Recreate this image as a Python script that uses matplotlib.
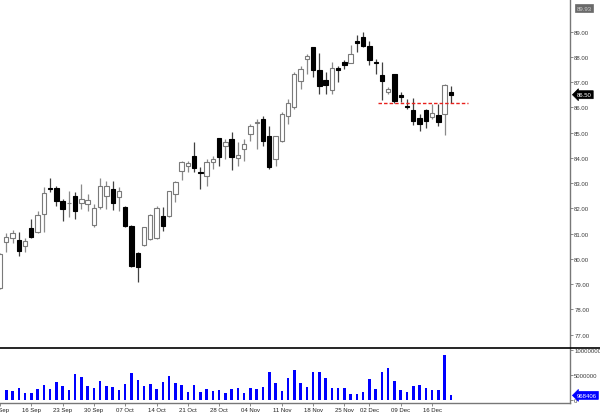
#!/usr/bin/env python3

import numpy as np
import pandas as pd
import matplotlib
matplotlib.use('Agg')
import matplotlib.pyplot as plt
from matplotlib.transforms import blended_transform_factory
from matplotlib.lines import Line2D

plt.rcParams['font.family'] = ['Liberation Sans', 'DejaVu Sans']

# trading days, Sep 9 - Dec 19 2013 (Thanksgiving closed)
dates = pd.bdate_range('2013-09-09', '2013-12-19').drop(pd.Timestamp('2013-11-28'))

opens = [78.85, 80.65, 80.82, 80.74, 80.52, 81.21, 81.05, 81.76, 82.80, 82.79,
	82.29, 82.20, 82.47, 82.20, 82.16, 81.34, 82.04, 82.47, 82.76, 82.43,
	82.06, 81.29, 80.23, 80.55, 80.78, 80.81, 81.70, 81.68, 82.56, 83.49,
	83.69, 84.08, 83.44, 83.29, 83.82, 84.77, 84.48, 84.74, 83.98, 84.37,
	84.94, 85.37, 85.53, 84.85, 83.95, 84.66, 85.64, 86.00, 87.05, 87.90,
	88.37, 87.48, 87.09, 86.70, 87.56, 87.78, 87.75, 88.64, 88.79, 88.44,
	87.80, 87.29, 86.59, 87.32, 86.50, 86.03, 85.89, 85.57, 85.90, 85.63,
	85.70, 85.73, 86.59]
highs = [80.25, 81.01, 81.15, 81.07, 80.82, 81.57, 81.90, 82.83, 83.19, 82.89,
	82.37, 82.70, 82.63, 82.96, 82.56, 82.17, 83.19, 83.09, 83.09, 82.83,
	82.10, 81.34, 80.26, 81.28, 81.77, 82.08, 82.04, 82.69, 83.09, 83.88,
	83.88, 84.61, 83.62, 83.95, 84.08, 84.77, 84.74, 85.03, 84.61, 84.74,
	85.34, 85.53, 85.67, 85.27, 84.87, 85.80, 86.33, 87.41, 87.65, 88.11,
	88.37, 88.15, 87.38, 87.78, 87.65, 87.88, 88.47, 88.86, 88.97, 88.64,
	87.91, 87.78, 86.79, 87.32, 86.59, 86.33, 86.37, 85.73, 85.93, 86.13,
	86.13, 86.92, 86.85]
lows = [78.80, 80.26, 80.62, 80.12, 80.28, 80.82, 81.01, 81.07, 82.66, 82.10,
	81.51, 81.64, 81.57, 81.97, 81.90, 81.28, 81.97, 81.97, 81.94, 81.90,
	81.25, 79.66, 79.08, 80.49, 80.74, 80.78, 81.11, 81.64, 82.24, 83.13,
	83.42, 83.42, 82.76, 82.89, 83.55, 83.69, 83.95, 83.53, 83.69, 83.88,
	84.68, 84.35, 84.48, 83.55, 83.69, 84.61, 85.34, 85.93, 86.72, 87.32,
	87.19, 86.52, 86.52, 86.52, 87.01, 87.51, 87.75, 88.18, 88.40, 87.69,
	87.32, 86.29, 86.52, 86.16, 86.20, 85.93, 85.31, 85.07, 85.18, 85.53,
	85.27, 84.91, 86.17]
closes = [80.20, 80.85, 81.03, 80.32, 80.71, 80.85, 81.73, 82.60, 82.77, 82.29,
	81.96, 82.22, 81.90, 82.37, 82.35, 82.01, 82.89, 82.89, 82.21, 82.69,
	81.29, 79.70, 79.69, 81.25, 81.73, 82.00, 81.29, 82.69, 83.03, 83.82,
	83.79, 83.58, 83.40, 83.85, 83.95, 84.02, 84.61, 84.04, 84.13, 84.53,
	85.27, 85.39, 84.68, 83.65, 84.85, 85.73, 86.17, 87.32, 87.51, 88.02,
	87.49, 86.83, 86.88, 87.54, 87.49, 87.67, 88.11, 88.54, 88.44, 87.87,
	87.76, 87.03, 86.72, 86.24, 86.40, 86.01, 85.47, 85.34, 85.44, 85.78,
	85.43, 86.89, 86.50]
# millions, first day is off the chart
volumes = [np.nan, 2.1, 1.9, 2.5, 1.5, 1.5, 2.3, 3.0, 2.2, 3.6, 2.8, 2.0, 5.3, 4.6,
	2.9, 2.4, 3.9, 2.9, 2.7, 2.0, 3.2, 5.4, 4.1, 2.9, 3.3, 2.2, 3.7, 4.9, 3.4,
	3.1, 1.6, 3.0, 1.6, 2.3, 1.9, 2.0, 1.5, 2.2, 2.4, 1.5, 2.5, 2.2, 2.7, 5.7,
	3.4, 1.9, 4.4, 6.1, 3.5, 2.7, 5.6, 5.7, 4.5, 2.5, 2.5, 2.5, 1.3, 1.2, 1.7,
	4.3, 2.3, 5.7, 6.4, 3.9, 2.0, 1.7, 2.9, 3.0, 2.4, 2.1, 2.0, 9.1, 0.968406]

price_ticks = list(range(77, 90))
volume_ticks = [0, 5000000, 10000000]
support_level = 86.18
support_from, support_to = '2013-12-04', '2013-12-19'
marker_price = '89.93'

o = np.array(opens)
h = np.array(highs)
l = np.array(lows)
c = np.array(closes)
v = np.array(volumes) * 1e6
x = np.arange(len(dates))

fig = plt.figure(figsize=(6, 4.14), dpi=100)
ax = fig.add_axes([0, 0.157, 0.95, 0.843])
axv = fig.add_axes([0, 0.0242, 0.95, 0.1328], sharex=ax)

up = c >= o
body_lo = np.minimum(o, c)
body_h = np.maximum(np.abs(c - o), 0.03)

ax.vlines(x[up], l[up], h[up], color='#8a8a8a', lw=0.9, zorder=1)
ax.vlines(x[~up], l[~up], h[~up], color='#404040', lw=0.9, zorder=1)
ax.bar(x[up], body_h[up], 0.7, bottom=body_lo[up], facecolor='white',
	edgecolor='#7a7a7a', lw=0.8, zorder=2)
ax.bar(x[~up], body_h[~up], 0.7, bottom=body_lo[~up], facecolor='black',
	edgecolor='black', lw=0.8, zorder=2)

i0 = dates.get_loc(pd.Timestamp(support_from)) - 0.6
i1 = dates.get_loc(pd.Timestamp(support_to)) + 2.8
ax.hlines(support_level, i0, i1, color='#e8201c', lw=1.0, linestyles=(0, (2.5, 1.5)), zorder=3)

ax.set_xlim(0.27, 91.03)
ax.set_ylim(76.47, 90.29)

ax.yaxis.tick_right()
ax.set_yticks(price_ticks)
ax.set_yticklabels([f'{p:.2f}' for p in price_ticks])
ax.tick_params(axis='y', length=2, width=0.6, color='#777777', labelsize=4.3,
	labelcolor='#3a3a3a', pad=1)
ax.tick_params(axis='x', bottom=False, labelbottom=False)
for s in ['top', 'left', 'bottom']:
	ax.spines[s].set_visible(False)
ax.spines['right'].set_color('#777777')
ax.spines['right'].set_linewidth(1.0)

axv.bar(x, v, 0.4, color='#0000ff', zorder=2)
axv.set_ylim(-0.55e6, 10.45e6)
axv.yaxis.tick_right()
axv.set_yticks(volume_ticks)
axv.set_yticklabels([str(t) for t in volume_ticks])
axv.tick_params(axis='y', length=2, width=0.6, color='#777777', labelsize=4.3,
	labelcolor='#3a3a3a', pad=1)

mondays = [i for i, d in enumerate(dates) if d.weekday() == 0]
axv.set_xticks(mondays)
axv.set_xticklabels([dates[i].strftime('%d %b') for i in mondays])
axv.tick_params(axis='x', length=2, width=0.6, color='#777777', labelsize=4.3,
	labelcolor='#222222', pad=1)
for s in ['top', 'left']:
	axv.spines[s].set_visible(False)
for s in ['right', 'bottom']:
	axv.spines[s].set_color('#777777')
	axv.spines[s].set_linewidth(1.0)

# separator between panels
fig.add_artist(Line2D([0, 1], [0.157, 0.157], color='black', lw=1.2, transform=fig.transFigure))

# value flags on the right scale
tp = blended_transform_factory(ax.transAxes, ax.transData)
ax.text(1.012, c[-1], f'{c[-1]:.2f}', transform=tp, fontsize=4.3, color='white',
	va='center', ha='left', clip_on=False,
	bbox=dict(boxstyle='larrow,pad=0.25', fc='black', ec='black', lw=0.5))
ax.text(1.012, float(marker_price), marker_price, transform=tp, fontsize=4.3,
	color='#d0d0d0', va='center', ha='left', clip_on=False,
	bbox=dict(boxstyle='square,pad=0.25', fc='#6a6a6a', ec='#6a6a6a', lw=0.5))
tv = blended_transform_factory(axv.transAxes, axv.transData)
axv.text(1.012, v[-1], f'{v[-1]:.0f}', transform=tv, fontsize=4.3, color='white',
	va='center', ha='left', clip_on=False,
	bbox=dict(boxstyle='larrow,pad=0.25', fc='#0000ff', ec='#0000ff', lw=0.5))

fig.savefig('out.png', dpi=100)
